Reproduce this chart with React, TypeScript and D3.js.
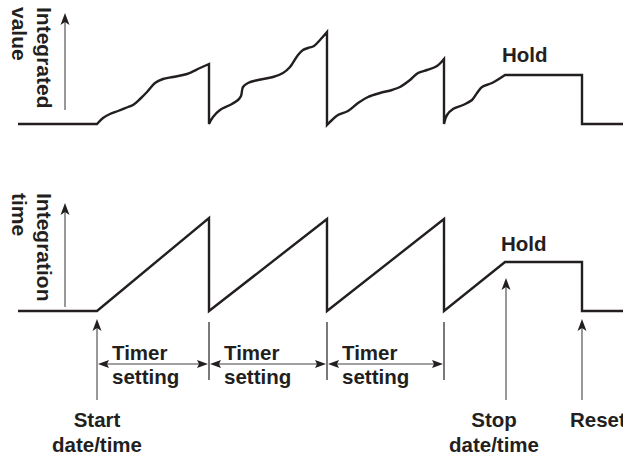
import React from 'react';
import * as d3 from 'd3';

// time axis: t = 0 at start date/time (arbitrary units)
const timerBounds = [0, 112, 230, 347];
const startT = 0;
const stopT = 408;
const resetT = 485;
const domainT = [-79, 526];

// Integrated value (arbitrary units)
const valueBase: [number, number][] = [[-79, 0], [0, 0]];
const rise1: [number, number][] = [[0, 0], [6, 6], [13, 10], [21, 13], [31, 17], [36, 19], [43, 25], [50, 32], [58, 41], [66, 45], [76, 47], [90, 50], [103, 56], [112, 60]];
const rise2: [number, number][] = [[112, 0], [116, 7], [123, 14], [133, 19], [141, 24], [144, 28], [146, 37], [151, 41], [161, 44], [176, 47], [186, 51], [193, 57], [201, 69], [206, 74], [211, 76], [217, 78], [223, 84], [230, 92]];
const rise3: [number, number][] = [[230, -1], [235, 4], [241, 9], [251, 13], [261, 21], [271, 27], [283, 31], [295, 34], [303, 37], [313, 44], [321, 51], [330, 54], [340, 58], [347, 65]];
const rise4: [number, number][] = [[347, 0], [350, 9], [356, 15], [366, 19], [375, 24], [380, 31], [385, 37], [395, 41], [408, 49]];
const valueTail: [number, number][] = [[485, 49], [485, 0], [526, 0]];
const valueRises = [rise1, rise2, rise3, rise4];

// Integration time
const timeT = [-79, 0, 112, 112, 230, 230, 347, 347, 408, 485, 485, 526];
const timeV = [0, 0, 93, 0, 92, 0, 92, 0, 49, 49, 0, 0];

const timerLabel = ['Timer', 'setting'];
const FONT = "'Liberation Sans', Arial, Helvetica, sans-serif";
const INK = '#231f20';

export default function App() {
  const xs = d3.scaleLinear().domain(domainT).range([18, 623]);
  const yTop = d3.scaleLinear().domain([0, 100]).range([124, 24]);
  const yBot = d3.scaleLinear().domain([0, 100]).range([311, 211]);

  const curve = d3.line<[number, number]>().x(d => xs(d[0])).y(d => yTop(d[1])).curve(d3.curveCatmullRom.alpha(0.5));
  const straight = d3.line<[number, number]>().x(d => xs(d[0])).y(d => yTop(d[1]));

  let topD = straight(valueBase) as string;
  valueRises.forEach(r => { topD += (curve(r) as string).replace(/^M/, 'L'); });
  topD += (straight(valueTail) as string).replace(/^M/, 'L');

  const botPts: [number, number][] = timeT.map((t, i) => [t, timeV[i]]);
  const botD = d3.line<[number, number]>().x(d => xs(d[0])).y(d => yBot(d[1]))(botPts) as string;

  const upArrow = (x: number, tip: number, bottom: number, key: string) => (
    <g key={key}>
      <line x1={x} x2={x} y1={bottom} y2={tip + 6} stroke="#444" strokeWidth={1.1} />
      <path d={`M${x},${tip} L${x + 4.5},${tip + 12} L${x},${tip + 9} L${x - 4.5},${tip + 12} Z`} fill={INK} />
    </g>
  );

  const ay = 364;
  const txt = { fontFamily: FONT, fontWeight: 700, fontSize: 20.5, fill: INK } as const;

  return (
    <svg width={623} height={456} style={{ position: 'absolute', left: 0, top: 0 }}>
      <rect width={623} height={456} fill="#fff" />
      {/* axis arrows */}
      {upArrow(65, 13, 110, 'ya1')}
      {upArrow(65, 203, 307, 'ya2')}
      <text transform="translate(37,7) rotate(90)" {...txt} fontSize={21}>Integrated</text>
      <text transform="translate(12,7) rotate(90)" {...txt} fontSize={21}>value</text>
      <text transform="translate(37,193) rotate(90)" {...txt} fontSize={21}>Integration</text>
      <text transform="translate(12,193) rotate(90)" {...txt} fontSize={21}>time</text>

      <path d={topD} fill="none" stroke={INK} strokeWidth={2.4} strokeLinejoin="miter" />
      <path d={botD} fill="none" stroke={INK} strokeWidth={2.4} strokeLinejoin="miter" />

      <text x={xs(stopT) - 3} y={62} {...txt}>Hold</text>
      <text x={xs(stopT) - 4} y={251} {...txt}>Hold</text>

      {/* timer dividers */}
      {timerBounds.slice(1).map((t, i) => (
        <line key={'dv' + i} x1={xs(t)} x2={xs(t)} y1={322} y2={380} stroke={INK} strokeWidth={1.2} />
      ))}
      {/* timer double arrows */}
      {timerBounds.slice(0, -1).map((t, i) => {
        const x0 = xs(t) + 1;
        const x1 = xs(timerBounds[i + 1]) - 1;
        return (
          <g key={'ta' + i}>
            <line x1={x0 + 6} x2={x1 - 6} y1={ay} y2={ay} stroke="#444" strokeWidth={1.1} />
            <path d={`M${x0},${ay} L${x0 + 11},${ay - 4} L${x0 + 9},${ay} L${x0 + 11},${ay + 4} Z`} fill={INK} />
            <path d={`M${x1},${ay} L${x1 - 11},${ay - 4} L${x1 - 9},${ay} L${x1 - 11},${ay + 4} Z`} fill={INK} />
            <text x={xs(t) + 15} y={360} {...txt}>{timerLabel[0]}</text>
            <text x={xs(t) + 15} y={384} {...txt}>{timerLabel[1]}</text>
          </g>
        );
      })}

      {/* event arrows */}
      {upArrow(xs(startT), 319, 400, 'start')}
      {upArrow(xs(stopT) + 1, 278, 400, 'stop')}
      {upArrow(xs(resetT), 319, 400, 'reset')}

      <text x={xs(startT)} y={427} textAnchor="middle" {...txt}>Start</text>
      <text x={xs(startT)} y={452} textAnchor="middle" {...txt}>date/time</text>
      <text x={xs(stopT) - 11} y={427} textAnchor="middle" {...txt}>Stop</text>
      <text x={xs(stopT) - 11} y={452} textAnchor="middle" {...txt}>date/time</text>
      <text x={570} y={427} {...txt}>Reset</text>
    </svg>
  );
}
